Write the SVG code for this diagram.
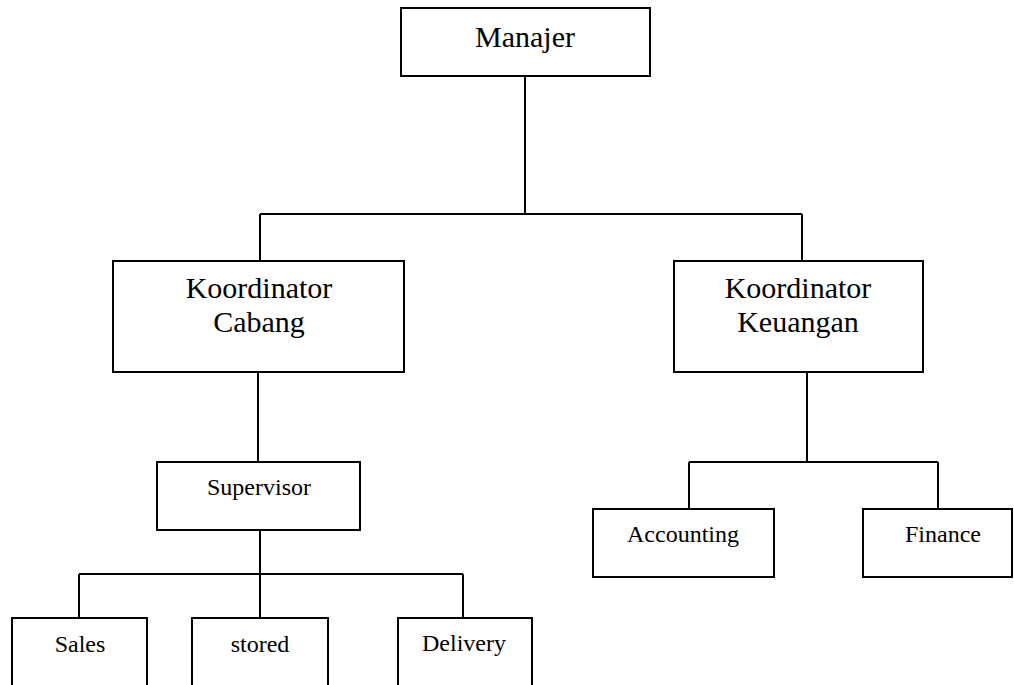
<svg xmlns="http://www.w3.org/2000/svg" width="1014" height="685" viewBox="0 0 1014 685">
<style>
.box{fill:#fff;stroke:#000;stroke-width:2}
.ln{fill:none;stroke:#000;stroke-width:2}
.t{font-family:"Liberation Serif","Times New Roman",serif;fill:#000;text-anchor:middle}
.big{font-size:30px}
.sm{font-size:24px}
</style>
<rect width="1014" height="685" fill="#fff"/>
<g id="connectors">
<path class="ln" d="M525 76V214M260 214H802M260 214V261M802 214V261"/>
<path class="ln" d="M258 372V462"/>
<path class="ln" d="M260 530V618M79 574H463M79 574V618M463 574V618"/>
<path class="ln" d="M807 372V462M689 462H938M689 462V509M938 462V509"/>
</g>
<g id="manajer"><rect class="box" x="401" y="8" width="249" height="68"/><text class="t big" x="525" y="47">Manajer</text></g>
<g id="koordinator-cabang"><rect class="box" x="113" y="261" width="291" height="111"/><text class="t big" x="259" y="298">Koordinator</text><text class="t big" x="259" y="332">Cabang</text></g>
<g id="koordinator-keuangan"><rect class="box" x="674" y="261" width="249" height="111"/><text class="t big" x="798" y="298">Koordinator</text><text class="t big" x="798" y="332">Keuangan</text></g>
<g id="supervisor"><rect class="box" x="157" y="462" width="203" height="68"/><text class="t sm" x="259" y="495">Supervisor</text></g>
<g id="sales"><rect class="box" x="12" y="618" width="135" height="80"/><text class="t sm" x="80" y="652">Sales</text></g>
<g id="stored"><rect class="box" x="192" y="618" width="136" height="80"/><text class="t sm" x="260" y="652">stored</text></g>
<g id="delivery"><rect class="box" x="398" y="618" width="134" height="80"/><text class="t sm" x="464" y="651">Delivery</text></g>
<g id="accounting"><rect class="box" x="593" y="509" width="181" height="68"/><text class="t sm" x="683" y="542">Accounting</text></g>
<g id="finance"><rect class="box" x="863" y="509" width="149" height="68"/><text class="t sm" x="943" y="542">Finance</text></g>
</svg>
